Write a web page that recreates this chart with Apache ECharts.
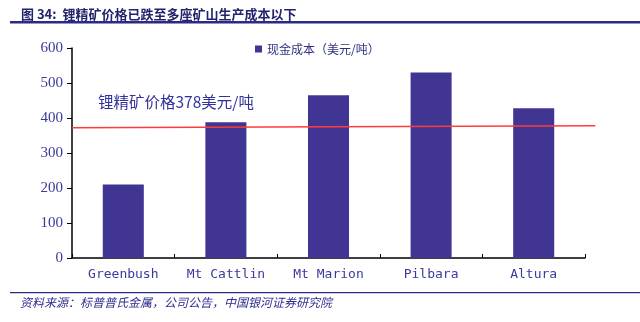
<!DOCTYPE html>
<html><head><meta charset="utf-8">
<script src="https://cdn.jsdelivr.net/npm/echarts@6/dist/echarts.min.js"></script>
<style>html,body{margin:0;padding:0;background:#fff}#c{width:640px;height:322px}</style>
</head><body><div id="c"></div>
<script>
const categories = ['Greenbush', 'Mt Cattlin', 'Mt Marion', 'Pilbara', 'Altura'];
const cashCost = [210, 388, 465, 530, 428];
const priceLine = [[0, 372], [5.1, 378]];
const yTicks = [0, 100, 200, 300, 400, 500, 600];
const seriesName = '现金成本（美元/吨）';
const priceLabel = '锂精矿价格378美元/吨';
const titleText = '图 34:  锂精矿价格已跌至多座矿山生产成本以下';
const sourceText = '资料来源：标普普氏金属，公司公告，中国银河证券研究院';

const chart = echarts.init(document.getElementById('c'), null, {renderer: 'canvas'});
const blue = '#3a3a9e';
chart.setOption({
  animation: false,
  backgroundColor: '#fff',
  title: {
    text: titleText, left: 16, top: 3,
    textStyle: {fontFamily: 'Noto Sans CJK SC', fontSize: 13, fontWeight: 'bold', color: '#23236e'}
  },
  legend: {
    data: [seriesName], left: 250, top: 38, icon: 'rect', itemWidth: 7, itemHeight: 7, itemGap: 4,
    textStyle: {fontFamily: 'Noto Sans CJK SC', fontSize: 12, color: '#303080'}
  },
  grid: [
    {left: 72, right: 55, top: 48, bottom: 64, containLabel: false},
    {left: 72, width: 523.3, top: 48, bottom: 64, containLabel: false}
  ],
  xAxis: [{
    type: 'category', data: categories, gridIndex: 0,
    axisLine: {lineStyle: {color: '#000', width: 1.5}},
    axisTick: {show: true, length: 4, inside: true, lineStyle: {color: '#000'}},
    axisLabel: {fontFamily: 'DejaVu Sans Mono', fontSize: 13, color: blue, margin: 10}
  }, {
    type: 'value', min: 0, max: 5.1, show: false, gridIndex: 1
  }],
  yAxis: [{
    type: 'value', min: 0, max: 600, interval: 100, gridIndex: 0,
    axisLine: {show: true, lineStyle: {color: '#000', width: 1.5}},
    axisTick: {show: true, length: 5, lineStyle: {color: '#000'}},
    splitLine: {show: false},
    axisLabel: {fontFamily: 'Liberation Serif', fontSize: 15, color: blue, margin: 9,
      formatter: v => yTicks.includes(v) ? String(v) : ''}
  }, {
    type: 'value', min: 0, max: 600, show: false, gridIndex: 1
  }],
  series: [{
    name: seriesName, type: 'bar', data: cashCost, barWidth: '40%',
    itemStyle: {color: '#413594'}
  }, {
    name: 'price', type: 'line', xAxisIndex: 1, yAxisIndex: 1, data: priceLine,
    symbol: 'none', lineStyle: {color: '#ff3b3b', width: 1.5}, z: 5
  }],
  graphic: [
    {type: 'rect', shape: {x: 10, y: 21, width: 630, height: 2.5}, style: {fill: '#2b2b85'}},
    {type: 'rect', shape: {x: 10, y: 292, width: 630, height: 1.2}, style: {fill: '#2b2b85'}},
    {type: 'text', left: 98, top: 94, style: {text: priceLabel, fontFamily: 'Noto Sans CJK SC', fontSize: 15.5, fill: '#32329c'}},
    {type: 'text', left: 20, top: 296, style: {text: sourceText, fontFamily: 'Noto Sans CJK SC', fontSize: 12, fontStyle: 'italic', fill: '#2e2e90'}}
  ]
});
</script></body></html>
